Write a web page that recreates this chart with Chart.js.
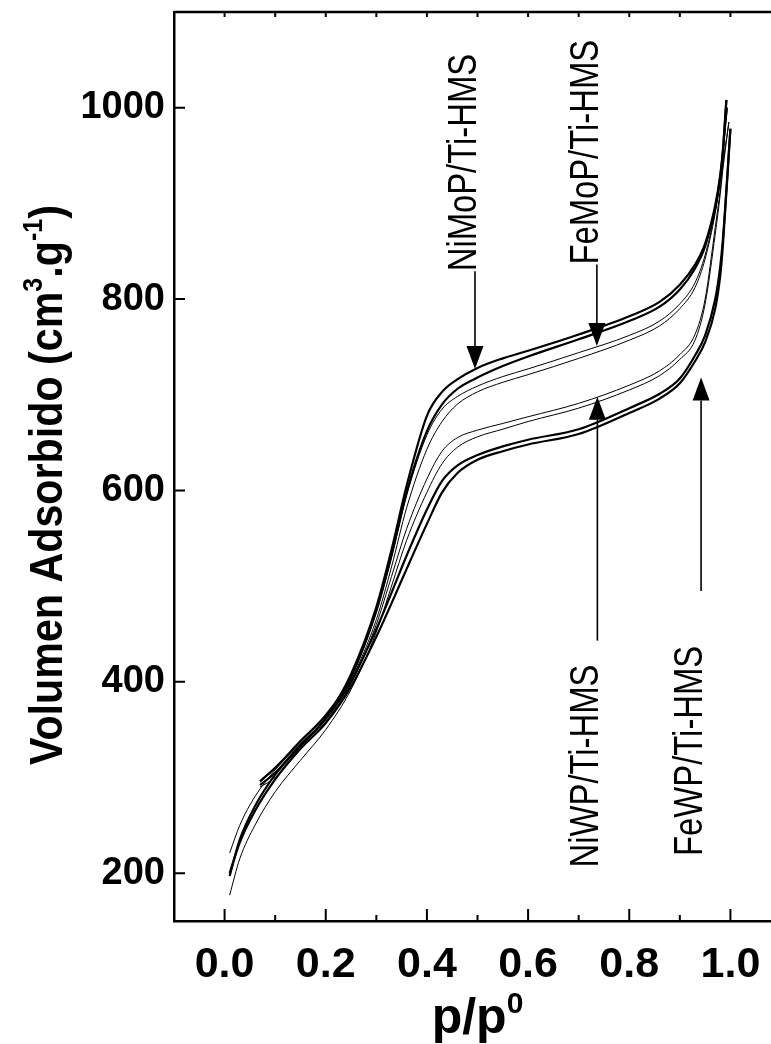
<!DOCTYPE html>
<html>
<head>
<meta charset="utf-8">
<title>Isotermas de adsorción</title>
<script src="https://cdn.jsdelivr.net/npm/chart.js@4.4.1/dist/chart.umd.min.js"></script>
<style>
  html, body { margin: 0; padding: 0; background: #fff; overflow: hidden; }
  #wrap { width: 771px; height: 1044px; overflow: hidden; }
</style>
</head>
<body>
<div id="wrap"><canvas id="iso" width="800" height="1044"></canvas></div>
<script>
// presiones relativas de cada rama
const adsP = [0.01, 0.03, 0.06, 0.1, 0.15, 0.2, 0.25, 0.3, 0.33, 0.36, 0.4, 0.43, 0.46, 0.5, 0.55, 0.6, 0.7, 0.8, 0.86, 0.9, 0.93, 0.95, 0.97, 0.98, 0.985];
const desP = [0.07, 0.1, 0.15, 0.2, 0.25, 0.3, 0.33, 0.36, 0.4, 0.43, 0.46, 0.5, 0.55, 0.6, 0.7, 0.8, 0.86, 0.9, 0.93, 0.95, 0.97, 0.98, 0.985];

// volumen adsorbido (cm3/g)
const niMoPAds = [197, 235, 270, 303, 333, 362, 408, 478, 538, 605, 678, 703, 716, 728, 738, 746, 763, 782, 797, 815, 836, 858, 898, 930, 955];
const niMoPDes = [296, 310, 338, 365, 405, 475, 532, 598, 662, 690, 706, 718, 730, 740, 758, 777, 792, 810, 832, 855, 895, 928, 953];
const feMoPAds = [221, 250, 280, 308, 335, 362, 402, 465, 520, 582, 643, 672, 690, 703, 713, 721, 738, 757, 772, 790, 812, 842, 890, 925, 950];
const feMoPDes = [295, 310, 338, 365, 405, 472, 530, 595, 658, 685, 698, 709, 719, 727, 744, 762, 777, 795, 817, 846, 893, 928, 955];
const niWPAds = [177, 215, 250, 285, 318, 350, 392, 452, 500, 548, 598, 628, 645, 656, 664, 672, 686, 705, 720, 737, 757, 795, 868, 910, 935];
const niWPDes = [290, 300, 330, 358, 398, 460, 510, 560, 612, 641, 655, 663, 670, 677, 691, 710, 725, 742, 763, 800, 875, 915, 940];
const feWPAds = [200, 232, 265, 298, 330, 357, 395, 447, 482, 518, 565, 598, 618, 632, 641, 648, 659, 681, 696, 712, 735, 755, 790, 825, 855];
const feWPDes = [292, 305, 334, 361, 400, 455, 493, 532, 580, 610, 626, 637, 646, 653, 664, 686, 701, 717, 741, 762, 800, 835, 862];

// punto de cierre de cada lazo (p/p0 y volumen)
const topP = [0.992, 0.994, 0.997, 1.0];
const topV = [1008, 1000, 985, 978];

const samples = ['NiMoP/Ti-HMS', 'FeMoP/Ti-HMS', 'NiWP/Ti-HMS', 'FeWP/Ti-HMS'];
const lineW = [2.2, 1, 1, 2.2];

// flechas: posición, inicio, punta, base del texto
const arrowP = [0.495, 0.736, 0.737, 0.942];
const arrowFrom = [829, 836, 443, 495];
const arrowTo = [727, 751, 698, 718];
const labelBase = [829, 836, 206, 218];

const xTickVals = [0, 0.2, 0.4, 0.6, 0.8, 1.0];
const xMinorVals = [0.1, 0.3, 0.5, 0.7, 0.9];
const xTopVals = [0, 0.1, 0.2, 0.3, 0.4, 0.5, 0.6, 0.7, 0.8, 0.9, 1.0];
const yTickVals = [200, 400, 600, 800, 1000];

const branches = [
  [niMoPAds, niMoPDes],
  [feMoPAds, feMoPDes],
  [niWPAds, niWPDes],
  [feWPAds, feWPDes]
];

const datasets = [];
branches.forEach(([ads, des], i) => {
  const top = { x: topP[i], y: topV[i] };
  [[adsP, ads, 'ads'], [desP, des, 'des']].forEach(([ps, vs, kind]) => {
    datasets.push({
      label: samples[i] + ' ' + kind,
      data: ps.map((p, k) => ({ x: p, y: vs[k] })).concat([top]),
      showLine: true,
      borderColor: '#000',
      borderWidth: lineW[i],
      pointRadius: 0,
      cubicInterpolationMode: 'monotone',
      fill: false
    });
  });
});

const FAMILY = '"Liberation Sans", Arial, sans-serif';
const bold = s => `bold ${s}px ${FAMILY}`;

const frameAndNotes = {
  id: 'frameAndNotes',
  afterDatasetsDraw(chart) {
    const { ctx, chartArea: a, scales: { x: xs, y: ys } } = chart;
    ctx.save();
    ctx.strokeStyle = '#000';
    ctx.fillStyle = '#000';

    // marco superior y derecho
    ctx.lineWidth = 2.5;
    ctx.beginPath();
    ctx.moveTo(a.left, a.top);
    ctx.lineTo(a.right, a.top);
    ctx.lineTo(a.right, a.bottom);
    ctx.stroke();

    // marcas hacia dentro
    ctx.lineWidth = 2;
    ctx.beginPath();
    xTickVals.forEach(v => {
      const px = xs.getPixelForValue(v);
      ctx.moveTo(px, a.bottom); ctx.lineTo(px, a.bottom - 12);
    });
    xMinorVals.forEach(v => {
      const px = xs.getPixelForValue(v);
      ctx.moveTo(px, a.bottom); ctx.lineTo(px, a.bottom - 6);
    });
    xTopVals.forEach(v => {
      const px = xs.getPixelForValue(v);
      ctx.moveTo(px, a.top); ctx.lineTo(px, a.top + 5);
    });
    yTickVals.forEach(v => {
      const py = ys.getPixelForValue(v);
      ctx.moveTo(a.left, py); ctx.lineTo(a.left + 11, py);
    });
    ctx.stroke();

    // flechas y rótulos
    samples.forEach((name, i) => {
      const ax = xs.getPixelForValue(arrowP[i]);
      const y0 = ys.getPixelForValue(arrowFrom[i]);
      const y1 = ys.getPixelForValue(arrowTo[i]);
      const dir = Math.sign(y1 - y0);
      const head = 23, half = 8.5;
      ctx.lineWidth = 1.6;
      ctx.beginPath();
      ctx.moveTo(ax, y0);
      ctx.lineTo(ax, y1 - dir * head);
      ctx.stroke();
      ctx.beginPath();
      ctx.moveTo(ax, y1);
      ctx.lineTo(ax - half, y1 - dir * head);
      ctx.lineTo(ax + half, y1 - dir * head);
      ctx.closePath();
      ctx.fill();

      ctx.save();
      ctx.translate(ax + 1, ys.getPixelForValue(labelBase[i]));
      ctx.rotate(-Math.PI / 2);
      ctx.scale(0.82, 1);
      ctx.font = `40px ${FAMILY}`;
      ctx.textAlign = 'left';
      ctx.textBaseline = 'alphabetic';
      ctx.fillText(name, 0, 0);
      ctx.restore();
    });

    // título eje Y con superíndices, ajustado a 560 px de largo
    const yParts = [
      ['Volumen Adsorbido (cm', 46, 0],
      ['3', 28, -20],
      ['.g', 46, 0],
      ['-1', 28, -20],
      [')', 46, 0]
    ];
    ctx.save();
    ctx.translate(62, 485);
    ctx.rotate(-Math.PI / 2);
    ctx.textBaseline = 'alphabetic';
    ctx.textAlign = 'left';
    let total = 0;
    yParts.forEach(([t, s]) => { ctx.font = bold(s); total += ctx.measureText(t).width; });
    ctx.scale(560 / total, 1);
    let cx = -total / 2;
    yParts.forEach(([t, s, dy]) => {
      ctx.font = bold(s);
      ctx.fillText(t, cx, dy);
      cx += ctx.measureText(t).width;
    });
    ctx.restore();

    // título eje X
    const xParts = [['p/p', 50, 0], ['0', 30, -20]];
    ctx.textBaseline = 'alphabetic';
    ctx.textAlign = 'left';
    let xw = 0;
    xParts.forEach(([t, s]) => { ctx.font = bold(s); xw += ctx.measureText(t).width; });
    let tx = (a.left + a.right) / 2 - xw / 2;
    xParts.forEach(([t, s, dy]) => {
      ctx.font = bold(s);
      ctx.fillText(t, tx, 1033 + dy);
      tx += ctx.measureText(t).width;
    });

    ctx.restore();
  }
};

new Chart(document.getElementById('iso'), {
  type: 'scatter',
  data: { datasets },
  options: {
    responsive: false,
    animation: false,
    layout: { padding: { top: 12, right: 19, left: 0, bottom: 0 } },
    plugins: { legend: { display: false }, tooltip: { enabled: false } },
    scales: {
      x: {
        type: 'linear',
        min: -0.1,
        max: 1.1,
        afterBuildTicks: s => { s.ticks = xTickVals.map(v => ({ value: v })); },
        afterFit: s => { s.height = 1044 - 921; s.paddingLeft = 0; s.paddingRight = 0; },
        ticks: { color: '#000', font: { family: FAMILY, size: 43, weight: 'bold' }, padding: 18, maxRotation: 0, callback: v => v.toFixed(1) },
        grid: { display: false, drawTicks: false },
        border: { display: true, color: '#000', width: 2.5 }
      },
      y: {
        type: 'linear',
        min: 150,
        max: 1100,
        afterBuildTicks: s => { s.ticks = yTickVals.map(v => ({ value: v })); },
        afterFit: s => { s.width = 174; s.paddingTop = 0; s.paddingBottom = 0; },
        ticks: { color: '#000', font: { family: FAMILY, size: 38, weight: 'bold' }, padding: 9, callback: v => String(v) },
        grid: { display: false, drawTicks: false },
        border: { display: true, color: '#000', width: 2.5 }
      }
    }
  },
  plugins: [frameAndNotes]
});
</script>
</body>
</html>
